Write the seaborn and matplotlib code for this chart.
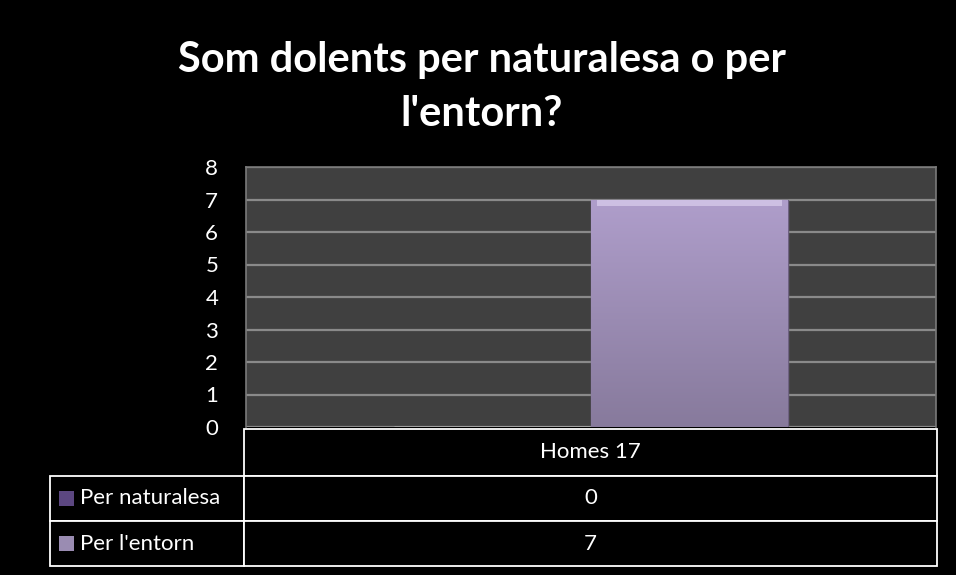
import numpy as np
import pandas as pd
import matplotlib
matplotlib.use("Agg")
import matplotlib.pyplot as plt
import seaborn as sns
from matplotlib.colors import LinearSegmentedColormap
from matplotlib.patches import Rectangle

# ---------------------------------------------------------------------------
# Dati
# ---------------------------------------------------------------------------

categorie = ["Homes 17"]
serie = ["Per naturalesa", "Per l'entorn"]
valori_naturalesa = [0]
valori_entorn = [7]
tick_y = [0, 1, 2, 3, 4, 5, 6, 7, 8]
titolo = "Som dolents per naturalesa o per\nl'entorn?"

colori = {"Per naturalesa": "#5c4781", "Per l'entorn": "#9a8cb2"}
# (colore in basso, colore in alto)
gradienti = {
    "Per naturalesa": ("#4a3868", "#7a62a0"),
    "Per l'entorn": ("#877a9c", "#af9ecb"),
}

df = pd.DataFrame({
    "categoria": categorie * 2,
    "serie": [serie[0]] * len(categorie) + [serie[1]] * len(categorie),
    "valore": valori_naturalesa + valori_entorn,
})

# ---------------------------------------------------------------------------
# Stile
# ---------------------------------------------------------------------------

sns.set_theme(style="dark")
plt.rcParams["font.family"] = ["Lato", "DejaVu Sans"]

fig = plt.figure(figsize=(9.56, 5.75), dpi=100, facecolor="black")
ax = fig.add_axes([246 / 956, 1 - 427 / 575, 690 / 956, 260 / 575])
ax.set_facecolor("#404040")

sns.barplot(
    data=df, x="categoria", y="valore", hue="serie",
    hue_order=serie, palette=colori, width=0.57, gap=0,
    saturation=1, legend=False, ax=ax,
)

ax.set_yticks(tick_y)
ax.set_yticklabels([str(t) for t in tick_y], color="white", fontsize=16)
ax.tick_params(axis="y", length=0, pad=20)
ax.set_xticks([])
ax.set_xlabel("")
ax.set_ylabel("")
ax.yaxis.grid(True, color="#8a8a8a", linewidth=1.6)
ax.set_axisbelow(True)
for lato in ["top", "right", "left"]:
    ax.spines[lato].set_visible(True)
    ax.spines[lato].set_color("#7a7a7a")
    ax.spines[lato].set_linewidth(1.2)
ax.spines["bottom"].set_visible(False)

# gradiente verticale sulle barre
for patch, nome in zip(ax.patches, serie):
    h = patch.get_height()
    if h <= 0:
        continue
    x0 = patch.get_x()
    w = patch.get_width()
    cmap = LinearSegmentedColormap.from_list("g", list(gradienti[nome]))
    grad = np.linspace(0, 1, 256).reshape(-1, 1)
    im = ax.imshow(grad, cmap=cmap, aspect="auto", origin="lower",
                   extent=[x0, x0 + w, 0, h], zorder=patch.get_zorder() + 0.1)
    im.set_clip_path(patch)
    patch.set_edgecolor("#6e6282")
    patch.set_linewidth(1)
    # bordo superiore chiaro (effetto smusso)
    ax.add_patch(Rectangle((x0 + w * 0.03, h - 0.2), w * 0.94, 0.17,
                           facecolor="#e8def8", edgecolor="none",
                           zorder=patch.get_zorder() + 0.2, alpha=0.55))
ax.set_xlim(-0.5, 0.5)
ax.set_ylim(0, 8)

# ---------------------------------------------------------------------------
# Titolo
# ---------------------------------------------------------------------------

fig.text(482 / 956, 1 - 87 / 575, titolo, ha="center", va="center",
         color="white", fontsize=30, fontweight="bold", linespacing=1.5)

# ---------------------------------------------------------------------------
# Tabella dati
# ---------------------------------------------------------------------------

def px(x, y):
    return x / 956, 1 - y / 575

bordo = dict(facecolor="black", edgecolor="white", linewidth=1.3,
             transform=fig.transFigure, figure=fig)

righe_y = [429, 476, 521, 566]
x_lab, x_dat, x_fine = 50, 244, 937

# intestazione
x0, y0 = px(x_dat, righe_y[1])
fig.patches.append(Rectangle((x0, y0), (x_fine - x_dat) / 956,
                             (righe_y[1] - righe_y[0]) / 575, **bordo))
fig.text((x_dat + x_fine) / 2 / 956, 1 - (righe_y[0] + righe_y[1]) / 2 / 575,
         categorie[0], ha="center", va="center", color="white", fontsize=16)

valori = [valori_naturalesa, valori_entorn]
for i, nome in enumerate(serie):
    top, bot = righe_y[i + 1], righe_y[i + 2]
    ym = 1 - (top + bot) / 2 / 575
    x0, y0 = px(x_lab, bot)
    fig.patches.append(Rectangle((x0, y0), (x_dat - x_lab) / 956,
                                 (bot - top) / 575, **bordo))
    x0, y0 = px(x_dat, bot)
    fig.patches.append(Rectangle((x0, y0), (x_fine - x_dat) / 956,
                                 (bot - top) / 575, **bordo))
    # marcatore legenda
    mx, my = px(59, (top + bot) / 2 + 7.5)
    fig.patches.append(Rectangle((mx, my), 15 / 956, 15 / 575,
                                 facecolor=colori[nome], edgecolor="none",
                                 transform=fig.transFigure, figure=fig))
    fig.text(80 / 956, ym, nome, ha="left", va="center",
             color="white", fontsize=16)
    fig.text((x_dat + x_fine) / 2 / 956, ym, str(valori[i][0]),
             ha="center", va="center", color="white", fontsize=16)

fig.savefig("out.png", dpi=100, facecolor="black")
